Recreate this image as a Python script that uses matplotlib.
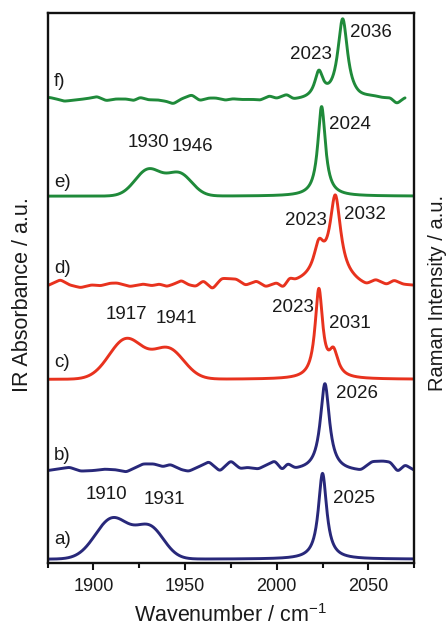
import numpy as np
import matplotlib
matplotlib.use("Agg")
import matplotlib.pyplot as plt

plt.rcParams['font.family'] = ['Liberation Sans', 'DejaVu Sans']
plt.rcParams['mathtext.fontset'] = 'custom'
plt.rcParams['mathtext.rm'] = 'Liberation Sans'

# ---------------- data ----------------
# vertical offsets of each trace (arbitrary units, stacked)
offsets = {'a': 0.7, 'b': 16.8, 'c': 33.4, 'd': 50.4, 'e': 66.7, 'f': 84.2}

# peak parameters: centre (cm-1), height (a.u.), FWHM (cm-1), shape (G/L)
a_centers = [1910.5, 1931.0, 2025.0]
a_heights = [7.4, 5.5, 15.6]
a_widths = [22.0, 18.0, 5.5]
a_shapes = ['G', 'G', 'L']

b_centers = [2026.3]
b_heights = [15.9]
b_widths = [6.0]
b_shapes = ['L']

c_centers = [1918.0, 1941.0, 2023.0, 2031.0]
c_heights = [7.3, 5.4, 16.0, 4.4]
c_widths = [22.0, 20.0, 5.0, 6.0]
c_shapes = ['G', 'G', 'L', 'L']

d_centers = [2023.0, 2032.0, 2028.0]
d_heights = [5.0, 14.3, 1.7]
d_widths = [6.5, 7.0, 22.0]
d_shapes = ['L', 'L', 'G']

e_centers = [1930.0, 1947.0, 2024.5]
e_heights = [4.8, 4.0, 16.3]
e_widths = [17.0, 16.0, 5.0]
e_shapes = ['G', 'G', 'L']

f_centers = [2023.0, 2036.0]
f_heights = [4.7, 14.7]
f_widths = [5.5, 6.5]
f_shapes = ['L', 'L']

# baseline ripple (position cm-1, deviation a.u.)
b_rip_x = [1875, 1887, 1893, 1900, 1906, 1912, 1918, 1927, 1933, 1938, 1942, 1948, 1952,
           1958, 1963, 1969, 1975, 1980, 1984, 1990, 1999, 2003, 2006, 2010, 2046, 2052,
           2058, 2062, 2066, 2070, 2075]
b_rip_y = [0.0, 0.6, -0.1, 0.0, 0.25, 0.15, -0.25, 1.2, 1.2, 0.7, 1.1, 0.15, -0.15,
           0.75, 1.6, -0.15, 1.75, 0.3, 0.5, 0.2, 1.6, -0.15, 1.0, 0.0, -0.2, 1.45,
           1.6, 1.45, -0.3, 1.0, 0.0]

d_rip_x = [1875, 1882, 1887, 1893, 1899, 1904, 1909, 1913, 1920, 1927, 1932, 1936, 1940,
           1944, 1948, 1952, 1956, 1960, 1965, 1970, 1975, 1978, 1983, 1989, 1994, 2000,
           2003.6, 2007, 2010, 2042, 2049, 2054, 2060, 2064, 2069, 2075]
d_rip_y = [0.0, 1.1, 0.15, -0.35, 0.15, 0.0, 0.45, 0.5, -0.15, 0.3, 0.0, 0.3, -0.15,
           0.3, 0.95, 0.15, -0.15, 0.9, -0.65, 1.3, 1.2, 1.15, 0.0, 0.75, -0.35, 0.3,
           -0.7, 0.9, 0.3, 0.0, -0.35, 0.75, 0.0, 0.85, 0.15, 0.0]

f_rip_x = [1876, 1880, 1884, 1891, 1897, 1902, 1907, 1912, 1918, 1922, 1925.5, 1930,
           1934.6, 1940, 1943.6, 1948, 1953.7, 1958, 1963, 1967, 1972, 1976, 1981, 1987,
           1991, 1996, 2000, 2005.5, 2009, 2045, 2050, 2053, 2058, 2062, 2065.5, 2070]
f_rip_y = [0.45, 0.15, -0.25, 0.0, 0.25, 0.6, -0.15, 0.15, 0.15, -0.15, 0.45, 0.0,
           0.0, -0.3, -0.75, 0.15, 0.9, -0.15, 0.3, 0.3, -0.1, 0.15, 0.0, 0.0,
           -0.15, 0.6, 0.1, 0.75, -0.15, -0.15, 0.15, 0.25, 0.1, 0.15, -0.9, 0.3]

# annotation texts (label, wavenumber position, height in a.u.)
peak_labels = ['2036', '2023', '2024', '1930', '1946', '2032', '2023',
               '1917', '1941', '2023', '2031', '2026', '1910', '1931', '2025']
peak_label_x = [2051.5, 2018.7, 2040.0, 1930.2, 1954.2, 2048.2, 2016.0,
                1918.2, 1945.5, 2008.9, 2040.0, 2043.9, 1907.2, 1938.9, 2042.2]
peak_label_y = [96.4, 92.4, 79.8, 76.4, 75.8, 63.3, 62.2,
                45.1, 44.5, 46.4, 43.6, 30.9, 12.4, 11.6, 11.8]

trace_names = ['a)', 'b)', 'c)', 'd)', 'e)', 'f)']
trace_label_y = [4.2, 19.6, 36.4, 53.6, 69.1, 87.5]

xticks_major = [1900, 1950, 2000, 2050]
xticks_minor = [1875, 1925, 1975, 2025, 2075]

colors = {'a': '#28287a', 'b': '#28287a', 'c': '#e8321e', 'd': '#e8321e',
          'e': '#1f8a3a', 'f': '#1f8a3a'}


def spectrum(x, centers, heights, widths, shapes):
    y = np.zeros_like(x)
    for c, h, w, s in zip(centers, heights, widths, shapes):
        if s == 'L':
            y += h / (1.0 + ((x - c) / (w / 2.0)) ** 2)
        else:
            y += h * np.exp(-4.0 * np.log(2.0) * ((x - c) / w) ** 2)
    return y


def ripple(x, rx, ry):
    r = np.interp(x, rx, ry)
    step = x[1] - x[0]
    sig = 0.8 / step
    k = np.arange(-int(4 * sig), int(4 * sig) + 1)
    ker = np.exp(-0.5 * (k / sig) ** 2)
    ker /= ker.sum()
    pad = len(k) // 2
    rp = np.concatenate([np.full(pad, r[0]), r, np.full(pad, r[-1])])
    return np.convolve(rp, ker, mode='valid')


W, H = 447, 628
fig = plt.figure(figsize=(W / 100, H / 100), dpi=100)
ax = fig.add_axes([47.5 / W, (H - 563) / H, 366.7 / W, 550 / H])

x_full = np.arange(1874.0, 2076.0, 0.2)
x_f = np.arange(1876.0, 2070.2, 0.2)

traces = {
    'a': (x_full, spectrum(x_full, a_centers, a_heights, a_widths, a_shapes)),
    'b': (x_full, spectrum(x_full, b_centers, b_heights, b_widths, b_shapes)
          + ripple(x_full, b_rip_x, b_rip_y)),
    'c': (x_full, spectrum(x_full, c_centers, c_heights, c_widths, c_shapes)),
    'd': (x_full, spectrum(x_full, d_centers, d_heights, d_widths, d_shapes)
          + ripple(x_full, d_rip_x, d_rip_y)),
    'e': (x_full, spectrum(x_full, e_centers, e_heights, e_widths, e_shapes)),
    'f': (x_f, spectrum(x_f, f_centers, f_heights, f_widths, f_shapes)
          + ripple(x_f, f_rip_x, f_rip_y)),
}

for key, (xx, yy) in traces.items():
    ax.plot(xx, yy + offsets[key], color=colors[key], lw=2.1,
            solid_capstyle='round', solid_joinstyle='round')

txt_color = '#1a1a1a'
for lab, lx, ly in zip(peak_labels, peak_label_x, peak_label_y):
    ax.text(lx, ly, lab, ha='center', va='center', fontsize=13.5, color=txt_color)
for lab, ly in zip(trace_names, trace_label_y):
    ax.text(1878.5, ly, lab, ha='left', va='center', fontsize=13.5, color=txt_color)

ax.set_xlim(1875, 2075)
ax.set_ylim(0, 100)
ax.set_yticks([])
ax.set_xticks(xticks_major)
ax.set_xticks(xticks_minor, minor=True)
ax.tick_params(axis='x', which='major', direction='out', length=5, width=1.5,
               labelsize=13, pad=6, colors='#111111', labelcolor=txt_color)
ax.tick_params(axis='x', which='minor', direction='out', length=3.5, width=1.5,
               colors='#111111')
for sp in ax.spines.values():
    sp.set_linewidth(1.7)
    sp.set_color('#111111')

fig.text(231 / W, 6 / H, 'Wavenumber / cm$^{\\mathregular{-1}}$', ha='center',
         va='baseline', fontsize=15.5, color=txt_color)
fig.text(12 / W, 1 - 295 / H, 'IR Absorbance / a.u.', rotation=90, ha='left',
         va='center', fontsize=15.5, color=txt_color)
fig.text(428 / W, 1 - 293 / H, 'Raman Intensity / a.u.', rotation=90, ha='left',
         va='center', fontsize=14.5, color=txt_color)

fig.savefig('out.png', dpi=100)
